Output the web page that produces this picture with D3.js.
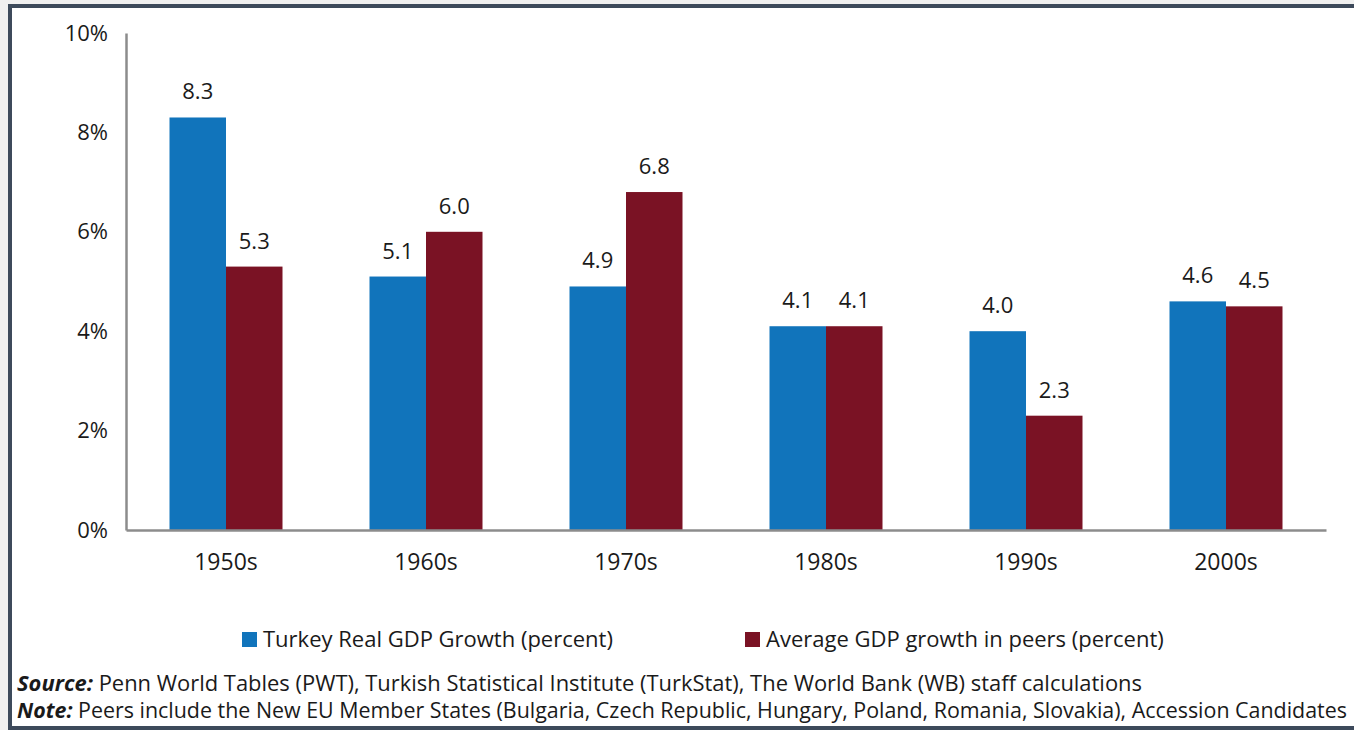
<!DOCTYPE html>
<html>
<head>
<meta charset="utf-8">
<script src="https://cdn.jsdelivr.net/npm/d3@7"></script>
<style>
  body { margin: 0; background: #f0f0f0; }
  svg { display: block; }
  text { font-family: "Open Sans", sans-serif; fill: #1a1a1a; }
</style>
</head>
<body>
<svg id="chart" width="1354" height="730"></svg>
<script>
// decades on the x axis
var decades = ["1950s", "1960s", "1970s", "1980s", "1990s", "2000s"];
// Turkey real GDP growth (percent)
var turkeyGrowth = [8.3, 5.1, 4.9, 4.1, 4.0, 4.6];
// average GDP growth in peers (percent)
var peersGrowth = [5.3, 6.0, 6.8, 4.1, 2.3, 4.5];
var seriesNames = ["Turkey Real GDP Growth (percent)", "Average GDP growth in peers (percent)"];
var seriesColors = ["#1174bb", "#7a1224"];
var yTicks = [0, 2, 4, 6, 8, 10];

var svg = d3.select("#chart");

// frame
svg.append("rect").attr("x", 10).attr("y", 6).attr("width", 1360).attr("height", 722)
    .attr("fill", "#ffffff").attr("stroke", "#3d4a5b").attr("stroke-width", 4);

var plotLeft = 126, plotRight = 1326, plotTop = 33, plotBottom = 530;

var x = d3.scaleBand().domain(decades).range([plotLeft, plotRight]).paddingInner(0.435).paddingOuter(0.2175);
var y = d3.scaleLinear().domain([0, 10]).range([plotBottom, plotTop]);

var rows = decades.map(function (d, i) {
    return {decade: d, values: [turkeyGrowth[i], peersGrowth[i]]};
});
var x1 = d3.scaleBand().domain([0, 1]).range([0, x.bandwidth()]);

var groups = svg.append("g").selectAll("g").data(rows).enter().append("g")
    .attr("transform", function (d) { return "translate(" + x(d.decade) + ",0)"; });

groups.selectAll("rect").data(function (d) { return d.values; }).enter().append("rect")
    .attr("x", function (d, i) { return x1(i); })
    .attr("y", function (d) { return y(d); })
    .attr("width", x1.bandwidth())
    .attr("height", function (d) { return y(0) - y(d); })
    .attr("fill", function (d, i) { return seriesColors[i]; });

groups.selectAll("text").data(function (d) { return d.values; }).enter().append("text")
    .attr("x", function (d, i) { return x1(i) + x1.bandwidth() / 2; })
    .attr("y", function (d) { return y(d) - 18; })
    .attr("text-anchor", "middle")
    .style("font-size", "22px")
    .text(function (d) { return d.toFixed(1); });

// y axis
var yAxis = d3.axisLeft(y).tickValues(yTicks).tickSize(0).tickPadding(18)
    .tickFormat(function (d) { return d + "%"; });
var gy = svg.append("g").attr("transform", "translate(" + plotLeft + ",0)").call(yAxis);
gy.select(".domain").attr("stroke", "#8c8c8c").attr("stroke-width", 2.5);
gy.selectAll("text").style("font-size", "22px").attr("font-family", null).attr("fill", "#1a1a1a");

// x axis
var xAxis = d3.axisBottom(x).tickSize(0).tickPadding(24);
var gx = svg.append("g").attr("transform", "translate(0," + plotBottom + ")").call(xAxis);
gx.select(".domain").attr("stroke", "#8c8c8c").attr("stroke-width", 2.5);
gx.selectAll("text").style("font-size", "23px").attr("fill", "#1a1a1a");

// legend
var legendX = [242, 745];
var legend = svg.append("g").selectAll("g").data(seriesNames).enter().append("g")
    .attr("transform", function (d, i) { return "translate(" + legendX[i] + ",632)"; });
legend.append("rect").attr("width", 15).attr("height", 15)
    .attr("fill", function (d, i) { return seriesColors[i]; });
legend.append("text").attr("x", 21).attr("y", 15).style("font-size", "22px")
    .text(function (d) { return d; });

// source and note
var notes = [
    ["Source:", " Penn World Tables (PWT), Turkish Statistical Institute (TurkStat), The World Bank (WB) staff calculations", 1125],
    ["Note:", " Peers include the New EU Member States (Bulgaria, Czech Republic, Hungary, Poland, Romania, Slovakia), Accession Candidates", 1330]
];
notes.forEach(function (n, i) {
    var t = svg.append("text").attr("x", 17).attr("y", 691 + i * 27).style("font-size", "21.5px")
        .attr("textLength", n[2]).attr("lengthAdjust", "spacingAndGlyphs");
    t.append("tspan").style("font-weight", "bold").style("font-style", "italic").text(n[0]);
    t.append("tspan").text(n[1]);
});
</script>
</body>
</html>
